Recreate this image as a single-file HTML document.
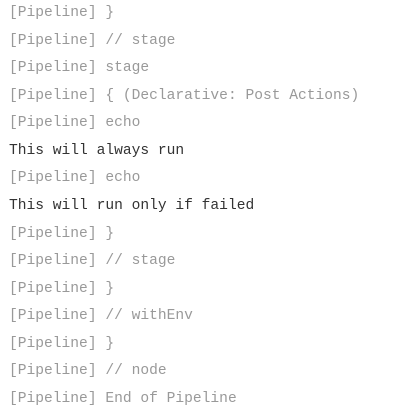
<!DOCTYPE html>
<html><head><meta charset="utf-8"><style>
html,body{margin:0;padding:0;background:#fff;width:407px;height:412px;overflow:hidden}
pre{margin:0;position:absolute;left:9px;top:0px;font-family:"Liberation Mono",monospace;font-size:14.6px;line-height:27.57px;color:#999}
.b{color:#333}
</style></head><body>
<pre>[Pipeline] }
[Pipeline] // stage
[Pipeline] stage
[Pipeline] { (Declarative: Post Actions)
[Pipeline] echo
<span class="b">This will always run</span>
[Pipeline] echo
<span class="b">This will run only if failed</span>
[Pipeline] }
[Pipeline] // stage
[Pipeline] }
[Pipeline] // withEnv
[Pipeline] }
[Pipeline] // node
[Pipeline] End of Pipeline</pre>
</body></html>
